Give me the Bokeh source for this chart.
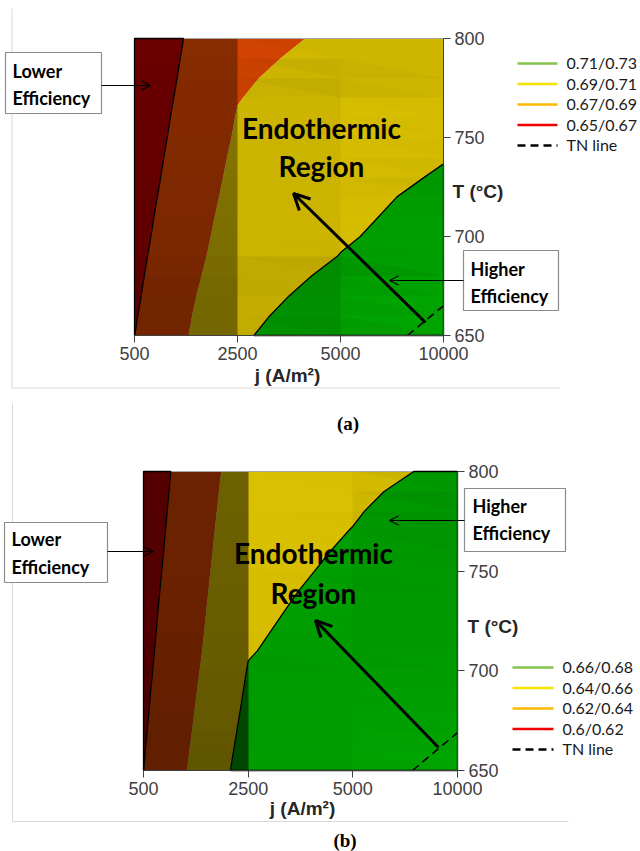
import numpy as np
from contourpy import contour_generator

from bokeh.core.properties import value
from bokeh.embed import file_html
from bokeh.layouts import column
from bokeh.models import Arrow, FixedTicker, LinearAxis, OpenHead, Range1d
from bokeh.plotting import figure
from bokeh.resources import INLINE

# ---------------------------------------------------------------- data
J_LABELS = ["500", "2500", "5000", "10000"]          # current density, A/m2
T_VALUES = [650, 660, 670, 680, 690, 700, 710, 720,
            730, 740, 750, 760, 770, 780, 790, 800]   # temperature, degC
T_TICKS = [650, 700, 750, 800]

# (a) efficiency at each temperature, one list per current density
EFF_A_500 = [0.6699, 0.6688, 0.6676, 0.6666, 0.6656, 0.6645, 0.6636, 0.6626,
             0.6616, 0.6607, 0.6598, 0.6589, 0.6580, 0.6572, 0.6565, 0.6558]
EFF_A_2500 = [0.7082, 0.7067, 0.7049, 0.7026, 0.7005, 0.6990, 0.6975, 0.6960,
              0.6946, 0.6933, 0.6919, 0.6908, 0.6895, 0.6882, 0.6869, 0.6856]
EFF_A_5000 = [0.7195, 0.7172, 0.7151, 0.7129, 0.7103, 0.7087, 0.7073, 0.7060,
              0.7047, 0.7033, 0.7020, 0.7007, 0.6993, 0.6968, 0.6943, 0.6923]
EFF_A_10000 = [0.7188, 0.7182, 0.7176, 0.7170, 0.7163, 0.7155, 0.7146, 0.7133,
               0.7112, 0.7094, 0.7076, 0.7058, 0.7040, 0.7022, 0.7004, 0.6986]
LEVELS_A = [0.65, 0.67, 0.69, 0.71, 0.73]
LEGEND_A = ["0.71/0.73", "0.69/0.71", "0.67/0.69", "0.65/0.67"]
TN_A_POS = [2.65, 3.0]      # thermoneutral line, position on the j axis
TN_A_T = [650, 665]

# (b)
EFF_B_500 = [0.6199, 0.6192, 0.6184, 0.6176, 0.6169, 0.6161, 0.6154, 0.6147,
             0.6140, 0.6133, 0.6125, 0.6118, 0.6111, 0.6105, 0.6098, 0.6092]
EFF_B_2500 = [0.6682, 0.6666, 0.6650, 0.6635, 0.6621, 0.6607, 0.6593, 0.6583,
              0.6574, 0.6564, 0.6555, 0.6545, 0.6536, 0.6526, 0.6517, 0.6507]
EFF_B_5000 = [0.6745, 0.6733, 0.6721, 0.6709, 0.6697, 0.6685, 0.6673, 0.6661,
              0.6649, 0.6639, 0.6626, 0.6615, 0.6603, 0.6591, 0.6580, 0.6568]
EFF_B_10000 = [0.6794, 0.6791, 0.6787, 0.6783, 0.6778, 0.6772, 0.6765, 0.6757,
               0.6748, 0.6738, 0.6726, 0.6712, 0.6695, 0.6673, 0.6647, 0.6623]
LEVELS_B = [0.60, 0.62, 0.64, 0.66, 0.68]
LEGEND_B = ["0.66/0.68", "0.64/0.66", "0.62/0.64", "0.6/0.62"]
TN_B_POS = [2.57, 3.0]
TN_B_T = [650, 669]

# ---------------------------------------------------------------- styling
W = 640
BAND_FILLS = ["#b40000", "#e64a00", "#e8cd00", "#00ab00"]     # low -> high band
LEGEND_COLORS = ["#84c44c", "#f5e400", "#fdb900", "#f00000"]  # high -> low band
TICK_FONT = "Liberation Sans"
NOTE_FONT = "Lato"
RELIEF = 1.2      # vertical exaggeration of the lit surface
FACET = 0.45      # how much the two triangles of a cell differ in shade

SPOTS_A = dict(
    height=400, frame=(134, 443, 38, 335),
    frame_lines=((11.5, 8, 11.5, 387.5), (11.5, 387.5, 560, 387.5)),
    low_box=(5, 101, 52, 113), low_text=(12, 70, 97), low_arrow=(101, 85, 150, 85),
    high_box=(463, 558, 250, 310), high_text=(470, 268, 295),
    high_arrow=(463, 280, 389, 280),
    big_arrow=(425, 322, 293, 193), endo=(321, 127, 165),
    legend=(517, 557, 566, 63, 20.5),
    t_label=(452, 191), j_label=(287, 375), captions=[],
)
SPOTS_B = dict(
    height=451, frame=(143, 457, 71, 370),
    frame_lines=((12, 3, 12, 421), (12, 421, 568, 421)),
    low_box=(4, 107, 122, 182), low_text=(11, 138, 166), low_arrow=(107, 151, 153, 151),
    high_box=(464, 565, 88, 151), high_text=(472, 105, 132),
    high_arrow=(464, 120, 389, 120),
    big_arrow=(438, 347, 315, 220), endo=(313, 152, 192),
    legend=(512, 553, 562, 267, 20.5),
    t_label=(467, 226), j_label=(302, 408),
    captions=[("(a)", 347.5, 23), ("(b)", 344.5, 440)],
)


def relief_image(xpos, tvals, z, lo, hi, nx=620, ny=600):
    """Darkening mask of the flat-shaded efficiency surface, lit from above."""
    xpos = np.asarray(xpos, float)
    tvals = np.asarray(tvals, float)
    u = xpos / xpos[-1]
    v = (tvals - tvals[0]) / (tvals[-1] - tvals[0])
    zn = (z - lo) / (hi - lo) * RELIEF
    nr, nc = len(v) - 1, len(u) - 1
    tri = np.zeros((nr, nc, 2))
    for r in range(nr):
        for c in range(nc):
            tl, tr, bl, br = (c, r + 1), (c + 1, r + 1), (c, r), (c + 1, r)
            for k, corners in enumerate(((tl, bl, br), (tl, tr, br))):
                pts = np.array([[u[ci], v[ri], zn[ri, ci]] for ci, ri in corners])
                nrm = np.cross(pts[1] - pts[0], pts[2] - pts[0])
                tri[r, c, k] = 1.0 - abs(nrm[2]) / np.linalg.norm(nrm)
    cell = tri.mean(axis=2, keepdims=True)
    tri = cell + FACET * (tri - cell)

    gx = (np.arange(nx) + 0.5) / nx * xpos[-1]
    gt = tvals[0] + (np.arange(ny) + 0.5) / ny * (tvals[-1] - tvals[0])
    ci = np.clip(np.searchsorted(xpos, gx, side="right") - 1, 0, nc - 1)
    ri = np.clip(np.searchsorted(tvals, gt, side="right") - 1, 0, nr - 1)
    fx = (gx - xpos[ci]) / (xpos[ci + 1] - xpos[ci])
    fy = (gt - tvals[ri]) / (tvals[ri + 1] - tvals[ri])
    upper = (fx[None, :] + fy[:, None]) >= 1.0
    alpha = np.where(upper, tri[ri[:, None], ci[None, :], 1], tri[ri[:, None], ci[None, :], 0])
    img = np.zeros((ny, nx), dtype=np.uint32)
    view = img.view(dtype=np.uint8).reshape((ny, nx, 4))
    view[..., 3] = np.clip(np.round(alpha * 255), 0, 255).astype(np.uint8)
    return img


def band_rings(xpos, tvals, z, lo, hi):
    """Closed outlines of the region where lo <= z < hi."""
    gen = contour_generator(np.asarray(xpos, float), np.asarray(tvals, float), z,
                            fill_type="OuterOffset")
    pts_list, off_list = gen.filled(lo, hi)
    xs, ys = [], []
    for pts, offs in zip(pts_list, off_list):
        for a, b in zip(offs[:-1], offs[1:]):
            ring = pts[a:b]
            xs.append([float(q) for q in ring[:, 0]] + [float(ring[0, 0])])
            ys.append([float(q) for q in ring[:, 1]] + [float(ring[0, 1])])
    return xs, ys


def build_panel(eff_cols, levels, legend_labels, tn_pos, tn_t, s):
    height = s["height"]
    left, right, top, bottom = s["frame"]
    n_j = len(J_LABELS)
    t_lo, t_hi = min(T_VALUES), max(T_VALUES)
    ux = (n_j - 1) / (right - left)
    uy = (t_hi - t_lo) / (bottom - top)
    p = figure(width=W, height=height, output_backend="svg", toolbar_location=None,
               x_range=Range1d(-left * ux, (n_j - 1) + (W - right) * ux),
               y_range=Range1d(t_lo - (height - bottom) * uy, t_hi + top * uy),
               x_axis_type=None, y_axis_type=None, min_border=0)
    p.outline_line_color = None
    p.background_fill_color = "white"
    p.border_fill_color = "white"
    p.extra_x_ranges = {"px": Range1d(0, W)}
    p.extra_y_ranges = {"px": Range1d(height, 0)}
    px = dict(x_range_name="px", y_range_name="px")

    # chart-area border
    for x0, y0, x1, y1 in s["frame_lines"]:
        p.segment(x0=x0, y0=y0, x1=x1, y1=y1, line_color="#d9d9d9", line_width=1, **px)

    # filled efficiency bands
    z = np.column_stack([np.asarray(c, float) for c in eff_cols])
    j_pos = list(range(n_j))
    p.contour(j_pos, T_VALUES, z, levels, fill_color=BAND_FILLS)

    # surface lighting
    shade = relief_image(j_pos, T_VALUES, z, levels[0], levels[-1])
    p.image_rgba(image=[shade], x=0, y=t_lo, dw=n_j - 1, dh=t_hi - t_lo)

    p.quad(left=0, right=n_j - 1, bottom=t_lo, top=t_hi, fill_color=None,
           line_color="#a6a6a6", line_width=1)

    # outlines of the lowest and highest bands
    for i in (0, len(levels) - 2):
        rx, ry = band_rings(j_pos, T_VALUES, z, levels[i], levels[i + 1])
        p.multi_line(rx, ry, line_color="black", line_width=1.3)

    # thermoneutral line
    p.line(tn_pos, tn_t, line_color="black", line_width=1.6, line_dash="8 5")

    # axes
    yax = LinearAxis(fixed_location=n_j - 1, ticker=FixedTicker(ticks=T_TICKS),
                     bounds=(t_lo, t_hi))
    xax = LinearAxis(fixed_location=t_lo, ticker=FixedTicker(ticks=j_pos),
                     major_label_overrides={i: lab for i, lab in enumerate(J_LABELS)},
                     bounds=(0, n_j - 1))
    for ax in (yax, xax):
        ax.axis_line_color = "#404040"
        ax.major_tick_line_color = "#404040"
        ax.minor_tick_line_color = None
        ax.major_tick_in = 0
        ax.major_tick_out = 7
        ax.major_label_standoff = 4
        ax.major_label_text_font = TICK_FONT
        ax.major_label_text_font_size = "18px"
        ax.major_label_text_color = "#404040"
    p.add_layout(yax, "right")
    p.add_layout(xax, "below")

    tx, ty = s["t_label"]
    p.text(x=[tx], y=[ty], text=["T (°C)"], text_font=value(TICK_FONT),
           text_font_style="bold", text_font_size="19px", text_color="#262626",
           text_align="left", text_baseline="middle", **px)
    jx, jy = s["j_label"]
    p.text(x=[jx], y=[jy], text=["j (A/m²)"], text_font=value(TICK_FONT),
           text_font_style="bold", text_font_size="19px", text_color="#262626",
           text_align="center", text_baseline="middle", **px)

    # legend
    lx0, lx1, ltx, ly0, lstep = s["legend"]
    rows = len(legend_labels) + 1
    ly = [ly0 + lstep * i for i in range(rows)]
    p.segment(x0=[lx0] * (rows - 1), y0=ly[:-1], x1=[lx1] * (rows - 1), y1=ly[:-1],
              line_color=LEGEND_COLORS, line_width=2.5, **px)
    p.segment(x0=[lx0], y0=[ly[-1]], x1=[lx1], y1=[ly[-1]], line_color="black",
              line_width=2.5, line_dash="8 5", **px)
    p.text(x=[ltx] * rows, y=[y - 1 for y in ly], text=legend_labels + ["TN line"],
           text_font=value(NOTE_FONT), text_font_size="16px", text_color="#1a1a1a",
           text_align="left", text_baseline="middle", **px)

    # callout boxes
    for box, txt, arr, words in ((s["low_box"], s["low_text"], s["low_arrow"], "Lower"),
                                 (s["high_box"], s["high_text"], s["high_arrow"], "Higher")):
        bl, br, bt, bb = box
        p.quad(left=bl, right=br, top=bt, bottom=bb, fill_color="white",
               line_color="#8c8c8c", line_width=1.2, **px)
        p.text(x=[txt[0], txt[0]], y=[txt[1], txt[2]], text=[words, "Efficiency"],
               text_font=value(NOTE_FONT), text_font_style="bold", text_font_size="18px",
               text_color="black", text_align="left", text_baseline="middle", **px)
        p.add_layout(Arrow(end=OpenHead(size=9, line_width=1.2, line_color="black"),
                           x_start=arr[0], y_start=arr[1], x_end=arr[2], y_end=arr[3],
                           line_width=1.2, line_color="black", **px))

    # endothermic region note
    ex, ey1, ey2 = s["endo"]
    p.text(x=[ex, ex], y=[ey1, ey2], text=["Endothermic", "Region"],
           text_font=value(NOTE_FONT), text_font_style="bold", text_font_size="28px",
           text_color="black", text_align="center", text_baseline="middle", **px)
    bx0, by0, bx1, by1 = s["big_arrow"]
    p.add_layout(Arrow(end=OpenHead(size=16, line_width=3, line_color="black"),
                       x_start=bx0, y_start=by0, x_end=bx1, y_end=by1,
                       line_width=3, line_color="black", **px))

    for cap, cx, cy in s["captions"]:
        p.text(x=[cx], y=[cy], text=[cap], text_font=value("Liberation Serif"),
               text_font_style="bold", text_font_size="19px", text_color="black",
               text_align="center", text_baseline="middle", **px)
    return p


fig_a = build_panel([EFF_A_500, EFF_A_2500, EFF_A_5000, EFF_A_10000], LEVELS_A,
                    LEGEND_A, TN_A_POS, TN_A_T, SPOTS_A)
fig_b = build_panel([EFF_B_500, EFF_B_2500, EFF_B_5000, EFF_B_10000], LEVELS_B,
                    LEGEND_B, TN_B_POS, TN_B_T, SPOTS_B)

page = column(fig_a, fig_b, spacing=0)
with open("out.html", "w") as fh:
    fh.write(file_html(page, INLINE))
